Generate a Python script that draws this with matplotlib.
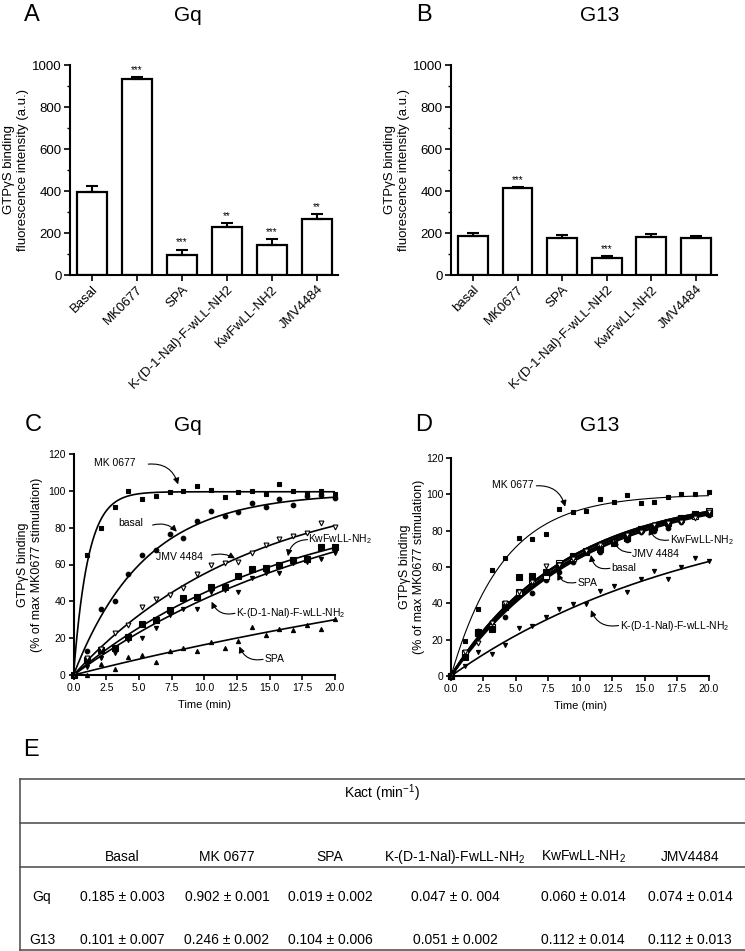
import numpy as np
import matplotlib
matplotlib.use('Agg')
import matplotlib.pyplot as plt
from matplotlib.lines import Line2D
from matplotlib.ticker import MultipleLocator, FormatStrFormatter

plt.rcParams['font.family'] = ['Liberation Sans', 'DejaVu Sans']
plt.rcParams['mathtext.fontset'] = 'custom'
plt.rcParams['mathtext.rm'] = 'Liberation Sans'
plt.rcParams['mathtext.it'] = 'Liberation Sans'

W, H = 745, 951

# ---- bar data (panels A, B) ----
gq_names = ['Basal', 'MK0677', 'SPA', 'K-(D-1-Nal)-F-wLL-NH2', 'KwFwLL-NH2', 'JMV4484']
g13_names = ['basal', 'MK0677', 'SPA', 'K-(D-1-Nal)-F-wLL-NH2', 'KwFwLL-NH2', 'JMV4484']
gq_bar = [397, 933, 95, 227, 143, 267]
gq_err = [29, 8, 24, 19, 27, 23]
gq_stars = ['', '***', '***', '**', '***', '**']
g13_bar = [186, 413, 178, 79, 181, 176]
g13_err = [12, 4, 12, 11, 13, 10]
g13_stars = ['', '***', '', '***', '', '']

# ---- kinetics data (panels C, D) ----
time_min = [0, 1.05, 2.1, 3.15, 4.2, 5.25, 6.3, 7.35, 8.4, 9.45, 10.5,
            11.55, 12.6, 13.65, 14.7, 15.75, 16.8, 17.85, 18.9, 20.0]

gq_mk = [0, 65, 80, 91, 100, 95.4, 97.4, 99.2, 100.1, 102.6, 100.4,
         96.5, 99.5, 100.1, 98.1, 103.5, 100.1, 98.6, 100, 98.3]
gq_basal = [0, 13, 36, 40, 55, 65, 68, 76.5, 74.2, 83.8, 89,
            86.5, 88.7, 93.2, 91.4, 95.5, 92.3, 97, 98, 96]
gq_jmv = [0, 9, 14, 23, 27, 36.7, 41.1, 43.3, 47.4, 54.8, 59.7,
          61, 61.5, 66.4, 70.6, 73.7, 75.5, 77.3, 82.7, 80.5]
gq_kwf = [0, 8.1, 13.6, 14.8, 20.8, 27.5, 29.9, 35.3, 42, 42.5, 47.9,
          47.9, 53.7, 57.4, 57.9, 59.7, 62.4, 62.8, 69.3, 69.3]
gq_knal = [0, 4.5, 9, 12, 19, 20.3, 25.3, 32.6, 35.7, 35.7, 45.2,
           46, 45.2, 52.5, 55.2, 55.6, 61, 61.5, 62.8, 66]
gq_spa = [0, 0, 5.8, 3.1, 9.6, 10.9, 7.1, 13, 14.8, 13, 18.1,
          14.8, 18.5, 25.9, 21.7, 25, 24.4, 27.1, 25, 30.2]

g13_mk = [0, 19.4, 36.9, 58.3, 64.8, 76, 75.2, 78, 91.7, 90.4, 90.8,
          97.2, 95.6, 99.6, 95.4, 95.9, 98.3, 100, 100.2, 101.1]
g13_basal = [0, 11, 25, 28, 32.6, 45, 45.5, 53, 57, 63, 68,
             68.5, 74, 75, 79, 80, 81.3, 85, 88, 88.5]
g13_spa = [0, 12.5, 23.5, 27, 39.5, 46, 53, 55, 62, 65, 69,
           71.5, 74, 76, 81, 82, 84, 86.5, 88, 91]
g13_kwf = [0, 10.3, 24, 26, 38, 54.6, 55, 57, 61, 66, 68,
           70, 73, 76, 81, 82, 85, 87, 89, 89.5]
g13_jmv = [0, 13, 18.3, 29, 40, 46.5, 52, 60.5, 61, 64.5, 69,
           72, 74, 77.5, 79, 83, 84, 84.5, 87, 90.5]
g13_knal = [0, 5.5, 13.2, 11.9, 17.1, 26.2, 27.5, 32.6, 36.9, 39.4, 39.4,
            46.6, 49.6, 46.4, 53.2, 58, 53.5, 59.8, 64.8, 63.3]

# fit parameters: Kact (table) and plateau
# order: basal, MK0677, SPA, K-(D-1-Nal), KwFwLL, JMV4484
gq_kact = [0.185, 0.902, 0.019, 0.047, 0.060, 0.074]
gq_plateau = [99, 99.5, 95, 110, 99, 105]
g13_kact = [0.101, 0.246, 0.104, 0.051, 0.112, 0.112]
g13_plateau = [102.6, 100, 102.9, 98.6, 101.2, 101.2]

# ---- table (panel E) ----
table_cols = ['Basal', 'MK 0677', 'SPA', 'K-(D-1-Nal)-FwLL-NH$_2$', 'KwFwLL-NH$_2$', 'JMV4484']
table_rows = ['Gq', 'G13']
table_gq = ['0.185 ± 0.003', '0.902 ± 0.001', '0.019 ± 0.002', '0.047 ± 0. 004',
            '0.060 ± 0.014', '0.074 ± 0.014']
table_g13 = ['0.101 ± 0.007', '0.246 ± 0.002', '0.104 ± 0.006', '0.051 ± 0.002',
             '0.112 ± 0.014', '0.112 ± 0.013']


def box(l, r, t, b):
    return [l / W, 1 - b / H, (r - l) / W, (b - t) / H]


def fx(x):
    return x / W


def fy(y):
    return 1 - y / H


def assoc(t, plateau, k):
    return plateau * (1 - np.exp(-k * t))


fig = plt.figure(figsize=(W / 100, H / 100), dpi=100)


def style_axes(ax, lab_size):
    for s in ['top', 'right']:
        ax.spines[s].set_visible(False)
    for s in ['left', 'bottom']:
        ax.spines[s].set_linewidth(1.5)
    ax.tick_params(direction='out', length=4, width=1.2, labelsize=lab_size, pad=2)


def bar_panel(rect, names, vals, errs, stars):
    ax = fig.add_axes(rect)
    x = np.arange(len(vals))
    ax.bar(x, vals, width=0.67, facecolor='white', edgecolor='black', linewidth=1.6, zorder=2)
    ax.errorbar(x, vals, yerr=[np.zeros(len(errs)), errs], fmt='none', ecolor='black',
                elinewidth=1.5, capsize=4.3, capthick=1.5, zorder=3)
    for xi, v, e, s in zip(x, vals, errs, stars):
        if s:
            ax.text(xi, v + e + 12, s, ha='center', va='bottom', fontsize=7)
    ax.set_xlim(-0.49, len(vals) - 0.53)
    ax.set_ylim(0, 1000)
    ax.yaxis.set_major_locator(MultipleLocator(200))
    ax.yaxis.set_minor_locator(MultipleLocator(100))
    ax.tick_params(axis='y', which='minor', length=2.5, width=1.0)
    style_axes(ax, 9.5)
    ax.set_xticks(x)
    ax.set_xticklabels(names, rotation=45, ha='right', rotation_mode='anchor', fontsize=9.5)
    return ax


axA = bar_panel(box(70, 338, 65, 275), gq_names, gq_bar, gq_err, gq_stars)
axB = bar_panel(box(451, 717, 65, 275), g13_names, g13_bar, g13_err, g13_stars)

fig.text(fx(16), fy(170), 'GTPγS binding\nfluorescence intensity (a.u.)', rotation=90,
         ha='center', va='center', fontsize=9.5, linespacing=1.3)
fig.text(fx(397), fy(170), 'GTPγS binding\nfluorescence intensity (a.u.)', rotation=90,
         ha='center', va='center', fontsize=9.5, linespacing=1.3)

# panel letters and titles
fig.text(fx(32), fy(21), 'A', ha='center', va='baseline', fontsize=17)
fig.text(fx(188), fy(21), 'Gq', ha='center', va='baseline', fontsize=15)
fig.text(fx(424), fy(21), 'B', ha='center', va='baseline', fontsize=17)
fig.text(fx(600), fy(21), 'G13', ha='center', va='baseline', fontsize=15)
fig.text(fx(33), fy(431), 'C', ha='center', va='baseline', fontsize=17)
fig.text(fx(188), fy(431), 'Gq', ha='center', va='baseline', fontsize=15)
fig.text(fx(424), fy(431), 'D', ha='center', va='baseline', fontsize=17)
fig.text(fx(600), fy(431), 'G13', ha='center', va='baseline', fontsize=15)
fig.text(fx(31), fy(756), 'E', ha='center', va='baseline', fontsize=17)

t_fit = np.linspace(0, 20, 300)


def kin_axes(rect):
    ax = fig.add_axes(rect)
    ax.set_xlim(0, 20)
    ax.set_ylim(0, 120)
    ax.xaxis.set_major_locator(MultipleLocator(2.5))
    ax.xaxis.set_major_formatter(FormatStrFormatter('%.1f'))
    ax.yaxis.set_major_locator(MultipleLocator(20))
    style_axes(ax, 7.5)
    ax.tick_params(length=3.5)
    ax.set_xlabel('Time (min)', fontsize=8, labelpad=5)
    return ax


def arrow(ax, label, text_xy, tail, head, rad, ha='left'):
    ax.text(text_xy[0], text_xy[1], label, ha=ha, va='center', fontsize=7.5, clip_on=False)
    ax.annotate('', xy=head, xytext=tail, annotation_clip=False,
                arrowprops=dict(arrowstyle='-|>', connectionstyle='arc3,rad=%s' % rad,
                                color='black', lw=0.8, mutation_scale=9, shrinkA=0, shrinkB=0))


mk = dict(color='black', linestyle='none')

# ---- panel C ----
axC = kin_axes(box(73.5, 335, 454, 675))
series_c = [(gq_basal, 0, 'o', 3.3, 'black'), (gq_mk, 1, 's', 3.2, 'black'),
            (gq_spa, 2, '^', 3.0, 'black'), (gq_knal, 3, 'v', 3.0, 'black'),
            (gq_kwf, 4, 's', 4.2, 'black'), (gq_jmv, 5, 'v', 3.5, 'white')]
for vals, i, m, ms, fc in series_c:
    axC.plot(t_fit, assoc(t_fit, gq_plateau[i], gq_kact[i]), color='black', lw=1.2)
    axC.plot(time_min, vals, marker=m, markersize=ms, markerfacecolor=fc,
             markeredgecolor='black', markeredgewidth=0.8, clip_on=False, **mk)
fig.text(fx(30), fy(565), 'GTPγS binding\n(% of max MK0677 stimulation)', rotation=90,
         ha='center', va='center', fontsize=9, linespacing=1.3)

arrow(axC, 'MK 0677', (3.17, 115.3), (5.72, 114.5), (8.0, 103.5), -0.4, ha='center')
arrow(axC, 'basal', (4.37, 82.3), (6.05, 81.4), (7.9, 77.8), -0.3, ha='center')
arrow(axC, 'JMV 4484', (8.1, 64.2), (10.56, 65.1), (12.35, 63.3), -0.2, ha='center')
arrow(axC, 'KwFwLL-NH$_2$', (17.95, 74), (17.9, 73.5), (16.4, 64.5), 0.4)
arrow(axC, 'K-(D-1-Nal)-F-wLL-NH$_2$', (12.45, 33.5), (12.35, 33.5), (10.56, 39.8), -0.4)
arrow(axC, 'SPA', (14.65, 8.8), (14.5, 8.5), (12.68, 15.5), -0.4)

# ---- panel D ----
axD = kin_axes(box(451, 709, 458, 676))
series_d = [(g13_mk, 1, 's', 3.2, 'black', 0.8), (g13_knal, 3, 'v', 3.0, 'black', 1.2),
            (g13_basal, 0, 'o', 3.3, 'black', 1.8), (g13_spa, 2, 's', 3.8, 'white', 1.8),
            (g13_kwf, 4, 's', 4.2, 'black', 1.8), (g13_jmv, 5, 'v', 3.5, 'white', 1.8)]
for vals, i, m, ms, fc, lw in series_d:
    axD.plot(t_fit, assoc(t_fit, g13_plateau[i], g13_kact[i]), color='black', lw=lw)
for vals, i, m, ms, fc, lw in series_d:
    axD.plot(time_min, vals, marker=m, markersize=ms, markerfacecolor=fc,
             markeredgecolor='black', markeredgewidth=0.8, clip_on=False, **mk)
fig.text(fx(412), fy(567), 'GTPγS binding\n(% of max MK0677 stimulation)', rotation=90,
         ha='center', va='center', fontsize=9, linespacing=1.3)

arrow(axD, 'MK 0677', (4.76, 105.1), (6.62, 104.7), (8.85, 93.2), -0.4, ha='center')
arrow(axD, 'KwFwLL-NH$_2$', (16.95, 74.8), (16.87, 74.8), (15.37, 81.3), -0.4)
arrow(axD, 'JMV 4484', (14.05, 67.1), (13.95, 68.0), (12.66, 75.2), -0.4)
arrow(axD, 'basal', (12.4, 59.3), (12.32, 59.3), (10.85, 66.6), -0.5)
arrow(axD, 'SPA', (9.8, 51.0), (9.68, 51.5), (8.25, 56.5), -0.4)
arrow(axD, 'K-(D-1-Nal)-F-wLL-NH$_2$', (13.1, 27.5), (12.99, 27.8), (10.85, 36.3), -0.4)

# ---- panel E: table ----
line_kw = dict(color='#555555', lw=1.2, transform=fig.transFigure)
for yy in [779, 822.7, 866.7, 950]:
    fig.add_artist(Line2D([fx(20), fx(745)], [fy(yy), fy(yy)], **line_kw))
fig.add_artist(Line2D([fx(20), fx(20)], [fy(779), fy(950)], **line_kw))

fig.text(fx(382), fy(793), 'Kact (min$^{-1}$)', ha='center', va='center', fontsize=10)
col_x = [122, 227, 330, 455, 583, 690]
for cx, name in zip(col_x, table_cols):
    fig.text(fx(cx), fy(857), name, ha='center', va='center', fontsize=10)
for ry, rname, vals in zip([897, 940], table_rows, [table_gq, table_g13]):
    fig.text(fx(42), fy(ry), rname, ha='center', va='center', fontsize=10)
    for cx, v in zip(col_x, vals):
        fig.text(fx(cx), fy(ry), v, ha='center', va='center', fontsize=10)

fig.savefig('out.png', dpi=100)
